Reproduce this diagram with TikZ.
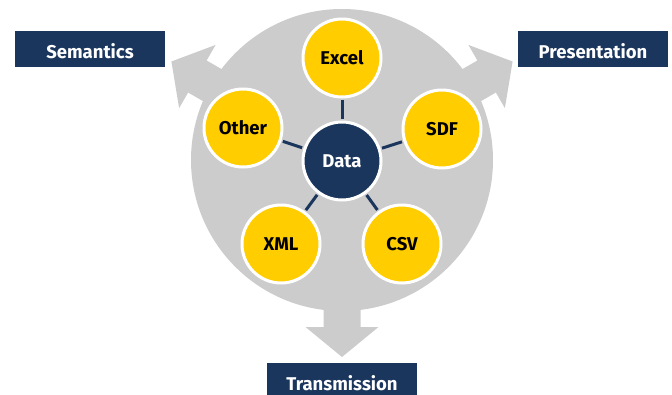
\documentclass[tikz,border=0pt]{standalone}
\usepackage{fontspec}
\setmainfont{Fira Sans}
\usepackage{tikz}
\usetikzlibrary{positioning}

\definecolor{navy}{RGB}{27,54,93}
\definecolor{gold}{RGB}{255,205,0}
\definecolor{mist}{RGB}{204,204,204}

\tikzset{
  fmt/.style={circle,fill=gold,draw=white,line width=3pt,minimum size=78pt,
    inner sep=0pt,font=\fontsize{18.5}{22}\selectfont\bfseries,text=black},
  hub/.style={fmt,fill=navy,text=white},
  tag/.style={rectangle,fill=navy,text=white,minimum width=150pt,minimum height=36pt,
    inner sep=0pt,text height=18pt,text depth=0pt,
    font=\fontsize{18.5}{22}\selectfont\bfseries},
  link/.style={draw=navy,line width=3pt,shorten <=1.5pt,shorten >=1.5pt}
}

\begin{document}
\begin{tikzpicture}[x=1pt,y=-1pt]
  \useasboundingbox (0,0) rectangle (672,394);
  % grey disc with three arrows
  \fill[mist] (342,160) circle (151);
  \foreach \a in {0,120,-120}
    \fill[mist,rotate around={\a:(342,160)}]
      (323.5,250) -- (360.5,250) -- (360.5,327) -- (378.5,327) -- (342,357)
      -- (305.5,327) -- (323.5,327) -- cycle;
  % formats
  \node[hub] (data) at (342,161) {Data};
  \node[fmt] (excel) at (342,58) {Excel};
  \node[fmt] (sdf) at (442,129) {SDF};
  \node[fmt] (csv) at (402,244) {CSV};
  \node[fmt] (xml) at (281,244) {XML};
  \node[fmt] (other) at (243,128) {Other};
  \foreach \f in {excel,sdf,csv,xml,other}
    \path[link] (data) -- (\f);
  % outcomes
  \node[tag] (sem) at (90,49) {Semantics};
  \node[tag] (pres) at (593,49) {Presentation};
  \node[tag] (trans) at (342,381) {Transmission};
\end{tikzpicture}
\end{document}
